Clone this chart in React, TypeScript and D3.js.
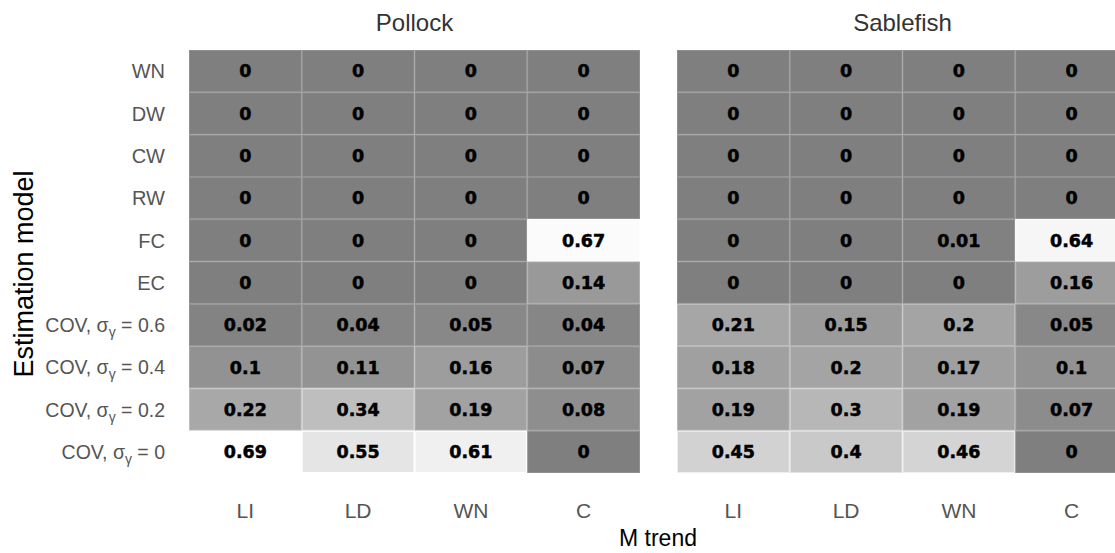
import React from "react";
import * as d3 from "d3";

const trends = ["LI", "LD", "WN", "C"];
const models = ["WN", "DW", "CW", "RW", "FC", "EC", "COV0.6", "COV0.4", "COV0.2", "COV0"];
const modelLabels: Record<string, string> = { "COV0.6": "0.6", "COV0.4": "0.4", "COV0.2": "0.2", COV0: "0" };
const species = ["Pollock", "Sablefish"];

const pollock = [
  [0, 0, 0, 0],
  [0, 0, 0, 0],
  [0, 0, 0, 0],
  [0, 0, 0, 0],
  [0, 0, 0, 0.67],
  [0, 0, 0, 0.14],
  [0.02, 0.04, 0.05, 0.04],
  [0.1, 0.11, 0.16, 0.07],
  [0.22, 0.34, 0.19, 0.08],
  [0.69, 0.55, 0.61, 0],
];
const sablefish = [
  [0, 0, 0, 0],
  [0, 0, 0, 0],
  [0, 0, 0, 0],
  [0, 0, 0, 0],
  [0, 0, 0.01, 0.64],
  [0, 0, 0, 0.16],
  [0.21, 0.15, 0.2, 0.05],
  [0.18, 0.2, 0.17, 0.1],
  [0.19, 0.3, 0.19, 0.07],
  [0.45, 0.4, 0.46, 0],
];
const values = [pollock, sablefish];

export default function App() {
  const W = 1115, H = 553;
  const panels = [[189, 640], [677, 1128]];
  const y = d3.scaleBand().domain(models).range([50, 473]);
  const color = d3.scaleLinear<string>().domain([0, 0.69]).range(["#7f7f7f", "#ffffff"]).clamp(true);
  const font = "Liberation Sans, Arial, sans-serif";

  return (
    <svg width={W} height={H} style={{ position: "absolute", left: 0, top: 0 }} fontFamily={font}>
      <rect width={W} height={H} fill="#fff" />
      {species.map((sp, si) => {
        const x = d3.scaleBand().domain(trends).range(panels[si] as [number, number]);
        return (
          <g key={sp}>
            <text x={(panels[si][0] + panels[si][1]) / 2} y={31} textAnchor="middle" fontSize={24} fill="#333">{sp}</text>
            {models.map((m, ri) =>
              trends.map((t, ci) => {
                const v = values[si][ri][ci];
                const fill = color(v);
                return (
                  <g key={m + t}>
                    <rect x={x(t)! + 0.5} y={y(m)! + 0.5} width={x.bandwidth() - 1} height={y.bandwidth() - 1}
                      fill={fill} stroke={d3.color(fill)!.brighter(0.35).formatHex()} strokeWidth={1} />
                    <text x={x(t)! + x.bandwidth() / 2} y={y(m)! + y.bandwidth() / 2} dy="0.36em" textAnchor="middle"
                      fontFamily="DejaVu Sans, sans-serif" fontSize={17.5} fontWeight="bold" fill="#000" stroke="#000" strokeWidth={0.5}>{String(v)}</text>
                  </g>
                );
              })
            )}
            {trends.map((t) => (
              <text key={t} x={x(t)! + x.bandwidth() / 2} y={518} textAnchor="middle" fontSize={21} fill="#555">{t}</text>
            ))}
          </g>
        );
      })}
      {models.map((m) => {
        const yy = y(m)! + y.bandwidth() / 2;
        if (modelLabels[m] !== undefined) {
          return (
            <text key={m} x={165} y={yy} dy="0.36em" textAnchor="end" fontSize={19.5} fill="#555">
              {"COV, σ"}
              <tspan fontSize={14} dy={5}>γ</tspan>
              <tspan dy={-5}>{" = " + modelLabels[m]}</tspan>
            </text>
          );
        }
        return (
          <text key={m} x={165} y={yy} dy="0.36em" textAnchor="end" fontSize={20} fill="#555">{m}</text>
        );
      })}
      <text transform={`translate(33, ${274}) rotate(-90)`} textAnchor="middle" fontSize={27} fill="#000">Estimation model</text>
      <text x={658} y={546} textAnchor="middle" fontSize={23} fill="#000">M trend</text>
    </svg>
  );
}
